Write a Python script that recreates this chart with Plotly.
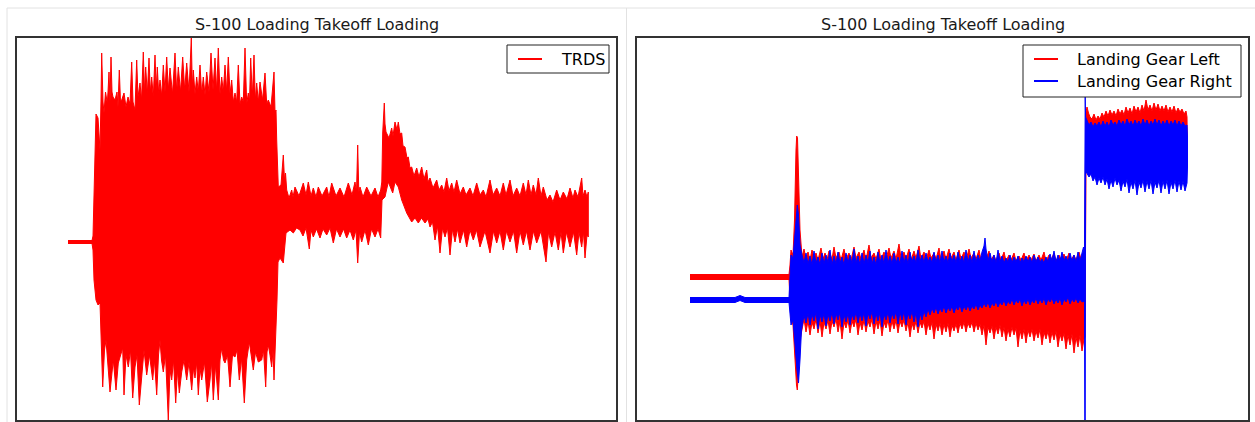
import plotly.graph_objects as go

TITLE = "S-100 Loading Takeoff Loading"
LEGEND_LEFT = ["TRDS"]
LEGEND_RIGHT = ["Landing Gear Left", "Landing Gear Right"]

# ---------------- data (time, load) ----------------
# TRDS: upper and lower envelope of the dense signal
trds_upper = [
    (51, 1.5), (75, 1.5), (76, 6), (77, 42), (79, 128), (81, 124), (83, 92), (84, 142),
    (84.7, 189), (86, 140), (87, 129), (88.5, 150), (90.3, 139), (91, 150), (92, 170), (93, 140),
    (94, 185), (95, 150), (96, 145), (98, 142), (100, 150), (101, 135), (102.3, 172), (103.5, 140),
    (104.7, 142), (107, 149), (109, 135), (111, 145), (113, 138), (114.7, 180), (116, 140), (118, 132),
    (119.7, 182), (121, 145), (123, 159), (124.5, 142), (126.3, 190), (127.5, 150), (128.7, 175),
    (130.3, 148), (132, 184), (133.3, 150), (134.7, 165), (136.3, 145), (138, 187), (139.2, 152),
    (140.3, 175), (141.7, 148), (143, 162), (144.7, 146), (146.3, 177), (148, 150), (149.7, 185),
    (151.3, 152), (153, 174), (155.5, 148), (158, 189), (159.7, 150), (161.3, 175), (163.5, 150),
    (165.7, 185), (167.7, 152), (169.7, 179), (172, 150), (174.3, 204), (175.3, 155), (176.3, 172),
    (178, 148), (179.7, 165), (181.3, 150), (183, 177), (184.7, 148), (186.3, 165), (188, 147),
    (189.7, 170), (192, 150), (194, 189), (196, 152), (198, 184), (199.7, 150), (201.3, 194),
    (203, 148), (204.7, 165), (206.3, 150), (208, 177), (209.7, 150), (211.3, 185), (213, 148),
    (214.7, 162), (216.3, 140), (218, 149), (219.7, 140), (221.3, 177), (223, 138), (224.7, 145),
    (226.3, 140), (228, 194), (229.7, 138), (231.3, 149), (232.5, 140), (233.7, 184), (235.3, 145),
    (237, 187), (238.3, 142), (239.7, 159), (241.3, 140), (243, 160), (245.5, 142), (248, 169),
    (249.7, 138), (251.3, 142), (254, 135), (257, 170), (258, 130), (259, 132), (259.7, 102),
    (260.3, 70), (261.3, 55), (264, 57), (266.3, 87), (267.5, 62), (268.5, 69), (269.7, 52),
    (272, 44), (274.7, 52), (276, 45), (278, 55), (282, 46), (286.3, 59), (289, 47), (291.3, 60),
    (294, 46), (296.3, 54), (299, 45), (301.3, 55), (305, 46), (309.7, 55), (312, 45), (314.7, 59),
    (319, 46), (323, 54), (327, 45), (331.3, 59), (335, 47), (338, 60), (339.5, 50), (340.7, 97),
    (341.8, 50), (343, 55), (346, 45), (349.7, 55), (354, 46), (358, 54), (361, 45), (363.7, 52),
    (364.8, 60), (365.7, 109), (366.5, 120), (367.3, 139), (368, 118), (369, 110), (372, 104),
    (374.7, 114), (376, 106), (378, 120), (380, 112), (381.3, 120), (383, 108), (384.7, 109),
    (386, 96), (388, 95), (390, 84), (391.3, 85), (393, 74), (394.7, 75), (397, 66), (399.7, 74),
    (402, 65), (404.7, 75), (407, 63), (409.7, 72), (411, 60), (413, 64), (416, 54), (419.7, 62),
    (422, 52), (424.7, 57), (427, 50), (429.7, 64), (432, 51), (434.7, 59), (437, 50), (439.7, 62),
    (443, 48), (446.3, 55), (449, 47), (453, 54), (456, 46), (459.7, 59), (463, 47), (466.3, 52),
    (469, 45), (473, 62), (476, 47), (479.7, 54), (483, 46), (486.3, 59), (489, 47), (493, 62),
    (496, 46), (499.7, 54), (503, 46), (506.3, 59), (509, 47), (511.3, 62), (514, 47), (516.3, 57),
    (519, 47), (521.3, 64), (524, 46), (526.3, 55), (530, 42), (533, 47), (536, 40), (539.7, 52),
    (543, 42), (546.3, 50), (550, 43), (553, 54), (556, 44), (558, 52), (561, 45), (564.7, 64),
    (566, 46), (568, 52), (570, 45), (571.3, 50),
]
trds_lower = [
    (51, -1.5), (75, -1.5), (76, -8), (77, -38), (79, -58), (81, -63), (83, -61), (84.5, -98),
    (85.7, -145), (87.5, -108), (89, -98), (93, -150), (96.3, -118), (99, -148), (101.3, -121),
    (105.7, -106), (107, -153), (109, -113), (111.3, -125), (113.5, -108), (115.7, -156),
    (118, -125), (120, -113), (122.3, -163), (124.7, -138), (127, -108), (129.7, -133),
    (132.5, -113), (135.7, -138), (137.5, -118), (139.7, -153), (141.5, -113), (143, -98),
    (144.5, -118), (146.3, -130), (148.5, -113), (151.3, -178), (153, -128), (154.7, -138),
    (156.5, -118), (158.7, -161), (160.5, -128), (162.3, -151), (164.7, -130), (167, -118),
    (169.7, -138), (172, -120), (174.7, -148), (176.5, -126), (178, -136), (179.7, -120),
    (181.3, -153), (183, -126), (184.7, -138), (187.5, -120), (190.3, -160), (193, -138),
    (194.5, -120), (196.3, -158), (198.5, -123), (201.3, -158), (203, -118), (204.7, -106),
    (206.5, -118), (208, -121), (210.5, -113), (213, -145), (215.5, -113), (218, -115),
    (220, -108), (222.3, -138), (224.5, -116), (227.3, -161), (229.7, -118), (232.3, -100),
    (234, -113), (236.3, -128), (238.5, -110), (241.3, -120), (244.7, -118), (246.5, -108),
    (248.7, -145), (250, -110), (251.3, -103), (253, -113), (254.7, -125), (256, -108),
    (257, -138), (258, -98), (259, -85), (260, -58), (261, -20), (263, -16), (266.3, -21),
    (269, 9), (273, 12), (276.3, 9), (279.5, 14), (283, 12), (286, 6), (289, 14), (292.3, -7),
    (294, 12), (296.3, 5), (299.5, 13), (303, 4), (306, 13), (309.7, 7), (313, 14), (316.3, -1),
    (319.5, 13), (323, 5), (326.5, 13), (329.7, 4), (333, 12), (336.3, 2), (339, 12),
    (340.7, -21), (342.5, 10), (344.7, 0), (348, 12), (351.3, -3), (354.5, 13), (358, 5),
    (361, 13), (363.7, 4), (365, 42), (368, 45), (369.5, 52), (371.3, 60), (373.5, 54),
    (375.7, 49), (378, 60), (381.3, 55), (384.7, 42), (387, 36), (389.7, 29), (392, 25),
    (394.7, 20), (398, 24), (401.3, 19), (404.5, 24), (408, 19), (411, 23), (413, 15),
    (415.5, 20), (418, 2), (420.5, 16), (423, -11), (425.5, 14), (428, 5), (430.5, 14),
    (433, -13), (435.5, 13), (438, 0), (440.5, 13), (443, -1), (446.5, 12), (449.7, -5),
    (453, 12), (456.3, 2), (459.5, 12), (463, -5), (468, 11), (473, -11), (476.5, 11),
    (479.7, -1), (483, 11), (486.3, -8), (489.5, 11), (493, 0), (496.5, 11), (499.7, -11),
    (503, 11), (506.3, -3), (509.5, 11), (513, -8), (516.5, 11), (519.7, -1), (524, 11),
    (529, -20), (531.5, 10), (534.7, -5), (538, 10), (541.3, -8), (544, 10), (546.3, -11),
    (549.5, 10), (553, -5), (556.5, 10), (559.7, -13), (562, 10), (564.7, -5), (566.5, 10),
    (568, -16), (570, 7), (571.3, 5),
]

# Landing Gear Left (red)
gear_left_upper = [
    (53, 2.5), (152, 2.5), (153, 12), (154, 27), (156, 22), (157.5, 57), (159, 127), (159.7, 141),
    (160.5, 139), (161.5, 102), (163, 47), (164.5, 27),
    (165, 20), (167, 28), (169, 18), (171, 25), (173, 17), (175, 27), (177, 19), (179, 24),
    (181, 17), (184, 29), (186, 18), (188, 24), (190, 17), (192, 26), (195, 18), (197, 30),
    (199, 19), (202, 25), (204, 17), (207, 28), (209, 18), (212, 24), (214, 17), (217, 30),
    (219, 19), (222, 25), (224, 18), (227, 27), (229, 17), (232, 32), (234, 19), (237, 24),
    (239, 18), (242, 28), (244, 17), (247, 25), (249, 18), (252, 29), (254, 19), (257, 26),
    (259, 18), (262, 33), (264, 19), (267, 25), (269, 18), (272, 28), (274, 17), (277, 26),
    (279, 19), (282, 31), (284, 18), (287, 25), (289, 17), (292, 27), (294, 19), (297, 24),
    (299, 18), (302, 29), (304, 17), (307, 26), (309, 18), (312, 28), (314, 19), (317, 25),
    (319, 17), (322, 27), (324, 18), (327, 25), (329, 17), (332, 28), (334, 19), (337, 24),
    (339, 18), (342, 27), (344, 17), (347, 23), (349, 18), (352, 26), (354, 17), (357, 22),
    (359, 16), (362, 24), (364, 17), (367, 25), (369, 16), (372, 22), (374, 17), (377, 24),
    (379, 16), (382, 21), (384, 17), (387, 24), (389, 16), (392, 22), (394, 17), (397, 23),
    (399, 16), (402, 22), (404, 17), (407, 25), (409, 16), (412, 22), (414, 17), (417, 24),
    (419, 16), (422, 22), (424, 17), (427, 23), (429, 16), (432, 24), (434, 17), (437, 22),
    (439, 17), (442, 25), (444, 18), (446, 23), (447.5, 20),
    (449, 165), (450, 170), (451.5, 164), (453, 160), (455, 158), (457, 163), (459, 157),
    (461, 161), (463, 158), (465, 164), (467, 160), (469, 166), (471, 161), (473, 167),
    (475, 162), (477, 166), (479, 161), (481, 168), (483, 163), (485, 167), (487, 162),
    (489, 170), (491, 164), (493, 169), (495, 163), (497, 171), (499, 165), (501, 170),
    (503, 164), (505, 172), (507, 166), (509, 177), (511, 167), (513, 172), (515, 166),
    (517, 174), (519, 167), (521, 173), (523, 166), (525, 171), (527, 166), (529, 172),
    (531, 165), (533, 170), (535, 165), (537, 171), (539, 164), (541, 169), (543, 165),
    (545, 168), (547, 163), (549, 166), (550, 160), (550.5, 144),
]
gear_left_lower = [
    (53, -2.5), (152, -2.5), (153, -13), (154, -43), (156, -48), (158, -83), (159.5, -108),
    (160.3, -113), (161.5, -93), (163, -63),
    (165, -53), (167, -42), (169, -55), (171, -44), (173, -58), (175, -45), (177, -52),
    (179, -42), (181, -56), (183, -44), (185, -60), (187, -45), (189, -52), (191, -43),
    (193, -57), (195, -44), (197, -50), (199, -42), (201, -55), (203, -44), (205, -62),
    (207, -45), (209, -51), (211, -43), (213, -56), (215, -44), (217, -50), (219, -42),
    (221, -58), (223, -45), (225, -53), (227, -43), (229, -55), (231, -44), (233, -50),
    (235, -42), (237, -57), (239, -44), (241, -52), (243, -43), (245, -59), (247, -45),
    (249, -51), (251, -43), (253, -55), (255, -44), (257, -52), (259, -43), (261, -56),
    (263, -44), (265, -50), (267, -43), (269, -54), (271, -45), (273, -60), (275, -46),
    (277, -53), (279, -44), (281, -56), (283, -45), (285, -51), (287, -44), (289, -58),
    (291, -46), (293, -53), (295, -45), (297, -62), (299, -47), (301, -54), (303, -46),
    (305, -58), (307, -47), (309, -55), (311, -46), (313, -60), (315, -48), (317, -54),
    (319, -47), (321, -56), (323, -46), (325, -52), (327, -45), (329, -55), (331, -46),
    (333, -51), (335, -45), (337, -55), (339, -46), (341, -53), (343, -47), (345, -58),
    (347, -48), (349, -68), (351, -50), (353, -56), (355, -49), (357, -62), (359, -50),
    (361, -57), (363, -48), (365, -60), (367, -50), (369, -64), (371, -52), (373, -60),
    (375, -50), (377, -58), (379, -51), (381, -70), (383, -53), (385, -62), (387, -52),
    (389, -66), (391, -53), (393, -60), (395, -52), (397, -64), (399, -54), (401, -61),
    (403, -52), (405, -68), (407, -55), (409, -62), (411, -54), (413, -66), (415, -55),
    (417, -63), (419, -54), (421, -70), (423, -57), (425, -64), (427, -56), (429, -72),
    (431, -58), (433, -68), (435, -57), (437, -76), (439, -60), (441, -70), (443, -58),
    (445, -74), (447, -62), (448, -60),
    (449, 108), (451, 106), (453, 110), (455, 104), (457, 112), (459, 107), (461, 113),
    (463, 106), (465, 112), (467, 105), (469, 113), (471, 106), (473, 114), (475, 107),
    (477, 112), (479, 105), (481, 113), (483, 107), (485, 114), (487, 106), (489, 112),
    (491, 105), (493, 113), (495, 107), (497, 115), (499, 106), (501, 112), (503, 105),
    (505, 114), (507, 107), (509, 113), (511, 106), (513, 112), (515, 105), (517, 114),
    (519, 106), (521, 113), (523, 107), (525, 112), (527, 105), (529, 114), (531, 106),
    (533, 112), (535, 105), (537, 113), (539, 106), (541, 112), (543, 105), (545, 113),
    (547, 106), (549, 112), (550.5, 120),
]

# Landing Gear Right (blue)
gear_right_upper = [
    (53, -20.5), (98, -20.5), (103, -18.5), (108, -20.5), (152, -20.5), (153, 2), (154, 22),
    (156, 19), (158, 42), (159.5, 67), (160.3, 72), (161.5, 62), (163, 32), (165, 22),
    (167, 14), (169, 24), (171, 13), (173, 21), (175, 12), (177, 26), (179, 14), (181, 20),
    (183, 12), (185, 24), (187, 13), (189, 22), (191, 14), (193, 27), (195, 12), (197, 21),
    (199, 13), (201, 25), (203, 14), (205, 20), (207, 12), (209, 24), (211, 14), (213, 22),
    (215, 13), (217, 28), (219, 14), (221, 21), (223, 12), (225, 24), (227, 13), (229, 22),
    (231, 14), (233, 26), (235, 13), (237, 20), (239, 12), (241, 25), (243, 14), (245, 22),
    (247, 13), (249, 27), (251, 14), (253, 21), (255, 13), (257, 24), (259, 14), (261, 20),
    (263, 13), (265, 26), (267, 14), (269, 22), (271, 13), (273, 25), (275, 15), (277, 21),
    (279, 14), (281, 27), (283, 15), (285, 22), (287, 14), (289, 24), (291, 15), (293, 20),
    (295, 14), (297, 25), (299, 15), (301, 22), (303, 14), (305, 26), (307, 15), (309, 21),
    (311, 14), (313, 24), (315, 15), (317, 22), (319, 14), (321, 25), (323, 15), (325, 21),
    (327, 14), (329, 27), (331, 15), (333, 22), (335, 14), (337, 26), (339, 15), (341, 22),
    (343, 16), (345, 25), (347, 31), (348, 39), (349, 28), (351, 16), (353, 24), (355, 15),
    (357, 22), (359, 14), (361, 27), (363, 15), (365, 21), (367, 14), (369, 19), (371, 15),
    (373, 22), (375, 14), (377, 20), (379, 15), (381, 21), (383, 14), (385, 19), (387, 15),
    (389, 21), (391, 15), (393, 20), (395, 14), (397, 22), (399, 15), (401, 20), (403, 15),
    (405, 18), (407, 14), (409, 20), (411, 15), (413, 23), (415, 16), (417, 26), (419, 15),
    (421, 22), (423, 16), (425, 25), (427, 16), (429, 21), (431, 15), (433, 24), (435, 16),
    (437, 22), (439, 15), (441, 25), (443, 16), (445, 26), (446.5, 30), (447.5, 20),
    (447.8, 180), (448.2, 180), (448.6, 160), (450, 157), (452, 152), (454, 155), (456, 150),
    (458, 154), (460, 151), (462, 155), (464, 150), (466, 156), (468, 151), (470, 155),
    (472, 150), (474, 157), (476, 152), (478, 155), (480, 151), (482, 157), (484, 152),
    (486, 156), (488, 151), (490, 158), (492, 152), (494, 156), (496, 151), (498, 157),
    (500, 152), (502, 156), (504, 151), (506, 158), (508, 152), (510, 157), (512, 151),
    (514, 156), (516, 152), (518, 158), (520, 152), (522, 157), (524, 151), (526, 156),
    (528, 152), (530, 157), (532, 151), (534, 156), (536, 152), (538, 157), (540, 151),
    (542, 156), (544, 151), (546, 155), (548, 151), (550, 152), (550.5, 140),
]
gear_right_lower = [
    (53, -25.5), (98, -25.5), (103, -23.5), (108, -25.5), (152, -25.5), (153, -33), (154, -48),
    (156, -43), (158, -63), (160, -93), (161.5, -106), (163, -83), (164.5, -53),
    (165, -50), (167, -38), (169, -46), (171, -36), (173, -48), (175, -37), (177, -44),
    (179, -35), (181, -52), (183, -37), (185, -45), (187, -36), (189, -49), (191, -37),
    (193, -44), (195, -35), (197, -47), (199, -36), (201, -43), (203, -35), (205, -50),
    (207, -37), (209, -45), (211, -36), (213, -48), (215, -37), (217, -43), (219, -35),
    (221, -46), (223, -36), (225, -44), (227, -35), (229, -49), (231, -36), (233, -42),
    (235, -34), (237, -47), (239, -36), (241, -44), (243, -35), (245, -50), (247, -37),
    (249, -43), (251, -35), (253, -46), (255, -36), (257, -42), (259, -34), (261, -47),
    (263, -35), (265, -43), (267, -34), (269, -48), (271, -36), (273, -42), (275, -34),
    (277, -45), (279, -35), (281, -50), (283, -36), (285, -43), (287, -34), (289, -40),
    (291, -32), (293, -38), (295, -31), (297, -36), (299, -30), (301, -37), (303, -31),
    (305, -35), (307, -29), (309, -36), (311, -30), (313, -34), (315, -29), (317, -36),
    (319, -30), (321, -33), (323, -28), (325, -35), (327, -29), (329, -33), (331, -28),
    (333, -34), (335, -29), (337, -32), (339, -27), (341, -33), (343, -28), (345, -31),
    (347, -26), (349, -30), (351, -25), (353, -31), (355, -26), (357, -29), (359, -24),
    (361, -30), (363, -25), (365, -28), (367, -23), (369, -29), (371, -24), (373, -27),
    (375, -22), (377, -28), (379, -23), (381, -26), (383, -22), (385, -29), (387, -23),
    (389, -27), (391, -22), (393, -28), (395, -23), (397, -26), (399, -21), (401, -27),
    (403, -22), (405, -26), (407, -21), (409, -28), (411, -22), (413, -25), (415, -21),
    (417, -27), (419, -22), (421, -26), (423, -21), (425, -28), (427, -22), (429, -25),
    (431, -20), (433, -27), (435, -22), (437, -25), (439, -21), (441, -26), (443, -22),
    (445, -25), (447.5, -24), (447.8, -143), (448.2, -143),
    (448.6, 106), (450, 104), (452, 100), (454, 103), (456, 96), (458, 100), (460, 92),
    (462, 99), (464, 94), (466, 100), (468, 92), (470, 98), (472, 88), (474, 97), (476, 90),
    (478, 99), (480, 92), (482, 97), (484, 86), (486, 96), (488, 90), (490, 98), (492, 84),
    (494, 95), (496, 88), (498, 97), (500, 82), (502, 95), (504, 89), (506, 97), (508, 85),
    (510, 96), (512, 88), (514, 97), (516, 83), (518, 95), (520, 89), (522, 97), (524, 84),
    (526, 96), (528, 88), (530, 97), (532, 83), (534, 95), (536, 88), (538, 97), (540, 85),
    (542, 96), (544, 87), (546, 96), (548, 86), (550, 94), (550.5, 110),
]

RED = "#ff0000"
BLUE = "#0000ff"
FONT = "DejaVu Sans"


def band(upper, lower):
    xs = [p[0] for p in upper] + [p[0] for p in reversed(lower)]
    ys = [p[1] for p in upper] + [p[1] for p in reversed(lower)]
    return xs, ys


fig = go.Figure()

x, y = band(trds_upper, trds_lower)
fig.add_trace(go.Scatter(x=x, y=y, mode="lines", fill="toself", fillcolor=RED, name=LEGEND_LEFT[0],
                         line=dict(color=RED, width=1), showlegend=False,
                         hoverinfo="skip", xaxis="x", yaxis="y"))
x, y = band(gear_left_upper, gear_left_lower)
fig.add_trace(go.Scatter(x=x, y=y, mode="lines", fill="toself", fillcolor=RED, name=LEGEND_RIGHT[0],
                         line=dict(color=RED, width=1), showlegend=False,
                         hoverinfo="skip", xaxis="x2", yaxis="y2"))
x, y = band(gear_right_upper, gear_right_lower)
fig.add_trace(go.Scatter(x=x, y=y, mode="lines", fill="toself", fillcolor=BLUE, name=LEGEND_RIGHT[1],
                         line=dict(color=BLUE, width=1), showlegend=False,
                         hoverinfo="skip", xaxis="x2", yaxis="y2"))

L, R, T, B = 17, 7, 38, 2
W, H = 1255, 422
PW, PH = W - L - R, H - T - B


def px(xp):
    return (xp - L) / PW


def py(yp):
    return (H - B - yp) / PH


axis_common = dict(showticklabels=False, showgrid=False, zeroline=False, ticks="",
                   showline=True, mirror=True, linecolor="#333333", linewidth=1.5)

annotations = [
    dict(text=TITLE, x=px(316.5), y=py(25), xref="paper", yref="paper",
         showarrow=False, xanchor="center", yanchor="middle",
         font=dict(family=FONT, size=16, color="#1a1a1a")),
    dict(text=TITLE, x=px(942.5), y=py(25), xref="paper", yref="paper",
         showarrow=False, xanchor="center", yanchor="middle",
         font=dict(family=FONT, size=16, color="#1a1a1a")),
]
shapes = [
    dict(type="line", xref="paper", yref="paper", x0=px(7), x1=px(1255), y0=py(8), y1=py(8),
         line=dict(color="#e2e2e2", width=1)),
    dict(type="line", xref="paper", yref="paper", x0=px(7), x1=px(7), y0=py(8), y1=py(422),
         line=dict(color="#e2e2e2", width=1)),
    dict(type="line", xref="paper", yref="paper", x0=px(626.5), x1=px(626.5), y0=py(8), y1=py(422),
         line=dict(color="#e2e2e2", width=1)),
]


def add_legend(box, entries):
    """Legend box drawn as frame + sample lines + text (matplotlib style)."""
    x0, y0, x1, y1 = box
    shapes.append(dict(type="rect", xref="paper", yref="paper", x0=px(x0), x1=px(x1),
                       y0=py(y1), y1=py(y0), fillcolor="white",
                       line=dict(color="#222222", width=1), layer="above"))
    for i, (label, color) in enumerate(entries):
        yc = y0 + 14 + 22 * i
        shapes.append(dict(type="line", xref="paper", yref="paper", x0=px(x0 + 11), x1=px(x0 + 35),
                           y0=py(yc), y1=py(yc), line=dict(color=color, width=2), layer="above"))
        annotations.append(dict(text=label, x=px(x0 + 52), y=py(yc), xref="paper", yref="paper",
                                showarrow=False, xanchor="left", yanchor="middle",
                                font=dict(family=FONT, size=16, color="#000000")))


add_legend((507, 45, 609, 73), [(LEGEND_LEFT[0], RED)])
add_legend((1023, 45, 1241, 97), [(LEGEND_RIGHT[0], RED), (LEGEND_RIGHT[1], BLUE)])

fig.update_layout(
    width=W, height=H, autosize=False,
    margin=dict(l=L, r=R, t=T, b=B, pad=0),
    paper_bgcolor="white", plot_bgcolor="white",
    font=dict(family=FONT),
    showlegend=False,
    xaxis=dict(domain=[0, px(616)], range=[0, 599], **axis_common),
    yaxis=dict(domain=[0, 1], range=[-178, 204], **axis_common),
    xaxis2=dict(domain=[px(637), 1], range=[0, 611], anchor="y2", **axis_common),
    yaxis2=dict(domain=[0, 1], range=[-143, 239], anchor="x2", **axis_common),
    annotations=annotations,
    shapes=shapes,
)

fig.write_html("out.html", config={"displayModeBar": False})
